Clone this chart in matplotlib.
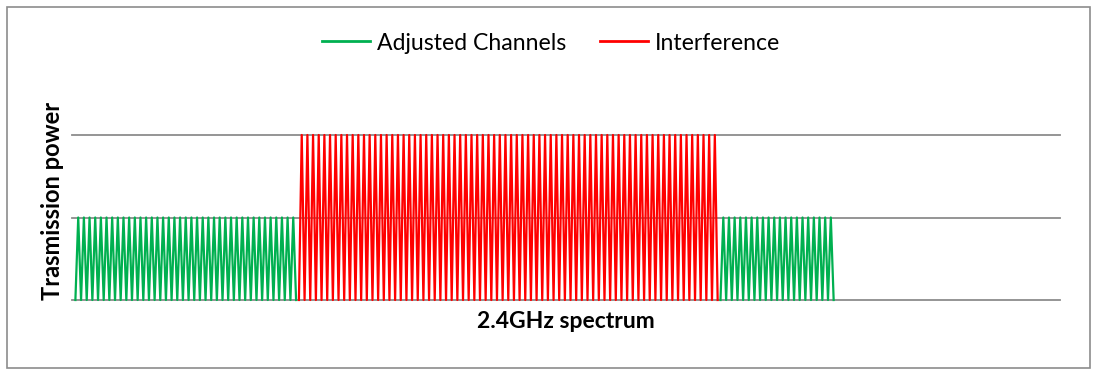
import matplotlib
matplotlib.use("Agg")
import matplotlib.pyplot as plt
import numpy as np
from matplotlib.patches import Rectangle
from matplotlib.lines import Line2D

# ---- data ----
series_names = ["Adjusted Channels", "Interference"]
series_colors = ["#00B050", "#FF0000"]
# segments along the spectrum: (series index, number of zig-zag cycles, peak level)
segment_series = [0, 1, 0]
segment_cycles = [39, 74, 20]
segment_peaks = [1, 2, 1]
gridline_levels = [0, 1, 2]
n_categories = 349
x_label = "2.4GHz spectrum"
y_label = "Trasmission power"

# build each series as a category series (NaN where not present)
values = [np.full(n_categories, np.nan) for _ in series_names]
pos = 0
for s, cyc, peak in zip(segment_series, segment_cycles, segment_peaks):
    seg = [0] + [peak, 0] * cyc
    values[s][pos:pos + len(seg)] = seg
    pos += len(seg)

W, H = 1100, 382
fig = plt.figure(figsize=(W / 100, H / 100), dpi=100)
plt.rcParams['font.family'] = ['Lato', 'DejaVu Sans']

# axes in pixel coordinates
left, right, top, bottom = 72, 1060, 135, 300
ax = fig.add_axes([left / W, 1 - bottom / H, (right - left) / W, (bottom - top) / H])
ax.set_xlim(-1.2, n_categories - 1)
ax.set_ylim(0, 2)
for lvl in gridline_levels:
    ax.axhline(lvl, color="#8C8C8C", lw=1.3, zorder=1, clip_on=False)
x = np.arange(n_categories)
for vals, name, col in zip(values, series_names, series_colors):
    ax.plot(x, vals, color=col, lw=1.6, label=name, zorder=3, clip_on=False)
ax.set_xticks([])
ax.set_yticks([])
for sp in ax.spines.values():
    sp.set_visible(False)
ax.patch.set_alpha(0)

fig.text(566 / W, 1 - 322 / H, x_label, ha="center", va="center",
         fontsize=16.5, fontweight="bold", color="black")
fig.text(53 / W, 1 - 201 / H, y_label, ha="center", va="center", rotation=90,
         fontsize=17, fontweight="bold", color="black")

handles = [Line2D([], [], color=c, lw=2) for c in series_colors]
fig.legend(handles, series_names, loc="center", bbox_to_anchor=(551 / W, 1 - 43 / H),
           ncol=2, frameon=False, fontsize=16.6, handlelength=2.1, handletextpad=0.3,
           columnspacing=1.45)

fig.patches.append(Rectangle((7 / W, 1 - 368 / H), (1090 - 7) / W, (368 - 7) / H,
                             transform=fig.transFigure, fill=False,
                             edgecolor="#8C8C8C", lw=1.2))

fig.savefig("out.png", dpi=100)
